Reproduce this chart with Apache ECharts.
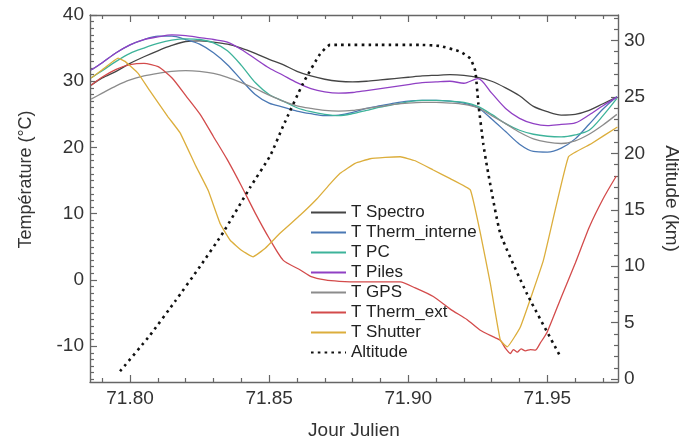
<!DOCTYPE html>
<html><head><meta charset="utf-8">
<script src="https://cdn.jsdelivr.net/npm/echarts@6/dist/echarts.min.js"></script>
<style>html,body{margin:0;padding:0;background:#fff}#c{width:680px;height:439px}</style>
</head><body><div id="c"></div>
<script>
// Shared sampling days (Jour Julien) for the smooth temperature curves
const days = [71.786,71.790,71.795,71.800,71.805,71.810,71.815,71.820,71.825,71.830,71.835,71.840,71.845,71.850,71.855,71.860,71.865,71.870,71.875,71.880,71.885,71.890,71.895,71.900,71.905,71.910,71.915,71.920,71.925,71.930,71.935,71.940,71.945,71.950,71.955,71.960,71.965,71.970,71.975];
const tSpectro = [29.4,30.5,31.5,32.7,33.7,34.6,35.4,36.0,36.1,35.9,35.6,35.0,34.2,33.3,32.5,31.5,30.8,30.3,30.0,29.9,30.0,30.2,30.4,30.6,30.8,30.9,31.0,30.9,30.6,30.0,29.0,27.8,26.2,25.4,24.9,25.0,25.6,26.6,27.6];
const tThermInterne = [31.7,32.8,34.3,35.5,36.3,36.8,36.8,36.3,35.6,34.3,32.5,30.2,28.0,26.7,26.1,25.5,25.1,24.8,24.9,25.3,25.9,26.3,26.7,27.0,27.1,27.1,27.0,26.7,26.0,24.3,22.4,20.5,19.4,19.3,19.9,21.3,23.5,25.8,27.7];
const tPC = [30.5,31.6,33.0,34.2,35.0,35.7,36.2,36.4,36.3,35.8,34.6,32.4,29.8,28.0,27.0,26.0,25.4,25.0,24.8,25.1,25.6,26.1,26.5,26.9,27.1,27.1,27.0,26.8,26.2,25.0,23.6,22.6,22.0,21.7,21.6,21.9,22.6,24.8,27.4];
const tPiles = [31.7,32.8,34.3,35.5,36.3,36.7,37.0,36.9,36.6,36.3,35.9,34.8,33.4,32.0,30.9,29.8,28.9,28.4,28.2,28.3,28.6,28.9,29.2,29.5,29.8,29.9,30.0,29.7,30.4,28.2,25.9,24.4,23.6,23.3,23.5,23.7,24.9,26.3,27.6];
const tGPS = [27.3,28.2,29.3,30.2,30.8,31.2,31.5,31.6,31.5,31.2,30.6,29.8,28.9,27.9,27.0,26.3,25.9,25.6,25.5,25.6,25.9,26.2,26.5,26.7,26.8,26.8,26.7,26.5,26.0,24.8,23.6,22.3,21.3,20.8,20.6,21.0,22.0,23.4,25.0];

// T Therm_ext (own sampling, noisy minimum)
const extDays = [71.7860,71.7899,71.7950,71.8000,71.8050,71.8101,71.8151,71.8201,71.8252,71.8299,71.8349,71.8399,71.8450,71.8500,71.8550,71.8612,71.8651,71.8701,71.8752,71.8827,71.8899,71.8971,71.9025,71.9090,71.9151,71.9212,71.9259,71.9306,71.9331,71.9349,71.9367,71.9378,71.9392,71.9406,71.9421,71.9439,71.9457,71.9475,71.9500,71.9550,71.9601,71.9651,71.9701,71.9748];
const tThermExt = [29.4,30.6,31.8,32.5,32.7,32.2,30.5,27.8,25.0,21.7,18.2,14.3,10.1,6.3,3.0,1.5,0.5,0.0,-0.2,-0.3,-0.3,-0.3,-1.2,-2.5,-4.4,-6.0,-7.6,-8.6,-9.1,-10.3,-11.1,-10.5,-10.9,-10.4,-10.7,-10.5,-10.6,-9.5,-7.8,-2.6,2.6,8.0,12.3,15.7];

// T Shutter (own sampling)
const shDays = [71.7860,71.7899,71.7957,71.7982,71.8029,71.8072,71.8137,71.8180,71.8234,71.8281,71.8324,71.8360,71.8403,71.8442,71.8486,71.8540,71.8612,71.8673,71.8719,71.8755,71.8809,71.8863,71.8917,71.8971,71.9025,71.9090,71.9151,71.9223,71.9259,71.9295,71.9331,71.9356,71.9403,71.9486,71.9576,71.9655,71.9752];
const tShutter = [30.5,31.7,33.5,33.0,31.2,28.5,24.6,22.2,17.4,13.5,8.5,6.0,4.4,3.5,4.8,7.1,9.8,12.3,14.5,16.1,17.6,18.3,18.5,18.6,18.0,16.6,15.3,13.6,7.1,-0.5,-9.1,-10.1,-7.1,3.0,18.6,20.5,23.1];

// Altitude (km, right axis)
const altDays = [71.7964,71.8072,71.8162,71.8252,71.8335,71.8432,71.8504,71.8550,71.8622,71.8683,71.8719,71.8755,71.8899,71.9043,71.9115,71.9187,71.9223,71.9241,71.9252,71.9270,71.9284,71.9331,71.9428,71.9547];
const altitude = [0.7,3.9,6.9,10.0,13.0,17.0,19.8,22.4,26.2,28.8,29.6,29.6,29.6,29.6,29.5,29.0,28.4,27.3,24.4,20.8,18.7,12.9,7.5,2.0];

// Tick values
const xMajor = [71.80,71.85,71.90,71.95];
const xMinor = [71.79,71.81,71.82,71.83,71.84,71.86,71.87,71.88,71.89,71.91,71.92,71.93,71.94,71.96,71.97];
const tempMajor = [-10,0,10,20,30,40];
const tempMinor = [-15,-14,-13,-12,-11,-9,-8,-7,-6,-5,-4,-3,-2,-1,1,2,3,4,5,6,7,8,9,11,12,13,14,15,16,17,18,19,21,22,23,24,25,26,27,28,29,31,32,33,34,35,36,37,38,39];
const altMajor = [0,5,10,15,20,25,30];
const altMinor = [1,2,3,4,6,7,8,9,11,12,13,14,16,17,18,19,21,22,23,24,26,27,28,29,31,32];

const X_MIN = 71.7856, X_MAX = 71.9754;
const T_MIN = -15.4, T_MAX = 40;
const A_MIN = -0.25, A_MAX = 32.25;

const FONT = "'Liberation Sans', Arial, sans-serif";
const axisCol = '#666';
const pair = (xs, ys) => xs.map((x, i) => [x, ys[i]]);

function tickAxis(base, vals, len, showLine) {
  return Object.assign({
    type: 'value',
    axisLine: {show: showLine, onZero: false, lineStyle: {color: axisCol, width: 1.4}},
    axisTick: {show: true, inside: true, length: len, customValues: vals, lineStyle: {color: axisCol, width: 1.2}},
    axisLabel: {show: false},
    splitLine: {show: false}
  }, base);
}

const chart = echarts.init(document.getElementById('c'), null, {renderer: 'canvas'});
const labelStyle = {fontSize: 19, color: '#333', fontFamily: FONT};

const xAxes = [
  Object.assign(tickAxis({position: 'bottom', min: X_MIN, max: X_MAX}, xMajor, 7, true), {
    axisLabel: {show: true, customValues: xMajor, formatter: v => v.toFixed(2), margin: 7, ...labelStyle},
    name: 'Jour Julien', nameLocation: 'middle', nameGap: 39,
    nameTextStyle: {fontSize: 19, color: '#333', fontFamily: FONT}
  }),
  tickAxis({position: 'bottom', min: X_MIN, max: X_MAX}, xMinor, 4, false),
  tickAxis({position: 'top', min: X_MIN, max: X_MAX}, xMajor, 7, true),
  tickAxis({position: 'top', min: X_MIN, max: X_MAX}, xMinor, 4, false)
];
const yAxes = [
  Object.assign(tickAxis({position: 'left', min: T_MIN, max: T_MAX}, tempMajor, 7, true), {
    axisLabel: {show: true, customValues: tempMajor, margin: 6, ...labelStyle},
    name: 'Température (°C)', nameLocation: 'middle', nameGap: 55,
    nameTextStyle: {fontSize: 18, color: '#333', fontFamily: FONT, padding: [0, 0, 0, 38]}
  }),
  Object.assign(tickAxis({position: 'right', min: A_MIN, max: A_MAX}, altMajor, 7, true), {
    axisLabel: {show: true, customValues: altMajor, margin: 6, ...labelStyle},
    name: 'Altitude (km)', nameLocation: 'middle', nameGap: 44, nameRotate: -90,
    nameTextStyle: {fontSize: 19, color: '#333', fontFamily: FONT}
  }),
  tickAxis({position: 'left', min: T_MIN, max: T_MAX}, tempMinor, 4, false),
  tickAxis({position: 'right', min: A_MIN, max: A_MAX}, altMinor, 4, false)
];

function ser(name, data, color, yIdx, extra) {
  return Object.assign({
    name, type: 'line', data, xAxisIndex: 0, yAxisIndex: yIdx,
    symbol: 'none', smooth: 0.3, animation: false,
    lineStyle: {color, width: 1.3}, itemStyle: {color}
  }, extra || {});
}

chart.setOption({
  animation: false,
  backgroundColor: '#fff',
  textStyle: {fontFamily: FONT},
  grid: {left: 90, right: 62, top: 15, bottom: 57, containLabel: false, outerBoundsMode: 'none'},
  xAxis: xAxes,
  yAxis: yAxes,
  legend: {
    orient: 'vertical', left: 310, top: 204, padding: 0,
    itemWidth: 35, itemHeight: 12, itemGap: 3,
    itemStyle: {opacity: 0},
    textStyle: {fontSize: 17, color: '#222', fontFamily: FONT},
    data: ['T Spectro','T Therm_interne','T PC','T Piles','T GPS','T Therm_ext','T Shutter','Altitude']
  },
  series: [
    ser('T Spectro', pair(days, tSpectro), '#454545', 0),
    ser('T Therm_interne', pair(days, tThermInterne), '#4a78b4', 0),
    ser('T PC', pair(days, tPC), '#3db39a', 0),
    ser('T Piles', pair(days, tPiles), '#9040c4', 0),
    ser('T GPS', pair(days, tGPS), '#8c8c8c', 0),
    ser('T Therm_ext', pair(extDays, tThermExt), '#d34b4b', 0, {smooth: 0.2}),
    ser('T Shutter', pair(shDays, tShutter), '#dcae3c', 0, {smooth: 0.1}),
    ser('Altitude', pair(altDays, altitude), '#111', 1, {
      smooth: 0.15,
      lineStyle: {color: '#111', width: 2.6, type: [2.6, 4.2], cap: 'butt'}
    })
  ]
});
</script>
</body></html>
